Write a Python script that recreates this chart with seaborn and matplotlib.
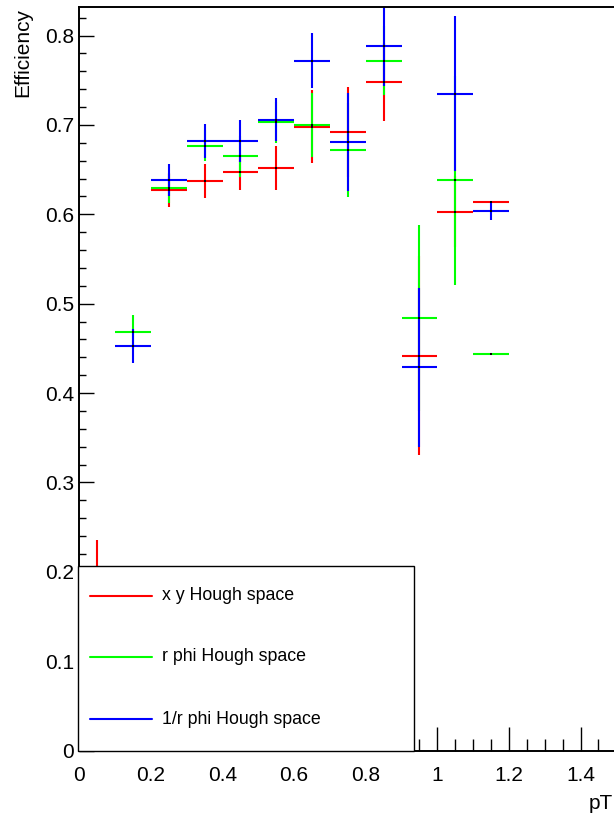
import numpy as np
import pandas as pd
import matplotlib
matplotlib.use("Agg")
import matplotlib.pyplot as plt
from matplotlib.patches import Rectangle
from matplotlib.lines import Line2D
from matplotlib.ticker import MultipleLocator, FuncFormatter
import seaborn as sns

# pT bins (centre and half-width)
pt_centers = [0.05, 0.15, 0.25, 0.35, 0.45, 0.55, 0.65, 0.75, 0.85, 0.95, 1.05, 1.15]
pt_half_width = 0.05

# efficiency per bin and its uncertainty for each Hough-space variant
eff_xy = [0.175, np.nan, 0.627, 0.637, 0.647, 0.652, 0.698, 0.692, 0.748, 0.442, 0.603, 0.614]
err_xy = [0.060, np.nan, 0.019, 0.019, 0.020, 0.025, 0.041, 0.050, 0.044, 0.111, 0.040, 0.000]

eff_rphi = [np.nan, 0.468, 0.629, 0.677, 0.665, 0.703, 0.700, 0.672, 0.772, 0.484, 0.638, 0.444]
err_rphi = [np.nan, 0.019, 0.016, 0.017, 0.023, 0.023, 0.036, 0.053, 0.039, 0.104, 0.117, 0.000]

eff_invr = [np.nan, 0.453, 0.638, 0.682, 0.682, 0.706, 0.772, 0.681, 0.788, 0.429, 0.735, 0.604]
err_invr = [np.nan, 0.019, 0.018, 0.019, 0.023, 0.024, 0.031, 0.055, 0.044, 0.089, 0.087, 0.010]

series_labels = ["x y Hough space", "r phi Hough space", "1/r phi Hough space"]
series_colors = ["#ff0000", "#00ff00", "#0000ff"]

x_ticks = [0, 0.2, 0.4, 0.6, 0.8, 1.0, 1.2, 1.4]
y_ticks = [0, 0.1, 0.2, 0.3, 0.4, 0.5, 0.6, 0.7, 0.8]

frames = []
for lab, eff, err in zip(series_labels, [eff_xy, eff_rphi, eff_invr], [err_xy, err_rphi, err_invr]):
    frames.append(pd.DataFrame({"pT": pt_centers, "eff": eff, "err": err, "method": lab}))
df = pd.concat(frames, ignore_index=True)

sns.set_theme(style="ticks")
plt.rcParams["font.family"] = ["Liberation Sans", "DejaVu Sans"]

W, H = 614, 813
fig = plt.figure(figsize=(W / 100, H / 100), dpi=100)
# frame in pixels: left 79.3, right 616.3 (just past the canvas), top 7, bottom 750.5
ax_l, ax_r, ax_t, ax_b = 79.3, 616.3, 7.0, 750.5
ax = fig.add_axes([ax_l / W, (H - ax_b) / H, (ax_r - ax_l) / W, (ax_b - ax_t) / H])
ax.set_facecolor("white")

for lab, col in zip(series_labels, series_colors):
    d = df[df["method"] == lab]
    ax.errorbar(d["pT"], d["eff"], xerr=pt_half_width, yerr=d["err"], fmt="none",
                ecolor=col, elinewidth=1.5, capsize=0, zorder=2)

sns.scatterplot(data=df.dropna(), x="pT", y="eff", color="black", marker="s", s=2,
                linewidth=0, ax=ax, zorder=3, legend=False)

ax.set_xlim(0, 1.5)
ax.set_ylim(0, 0.832)
ax.set_xlabel("")
ax.set_ylabel("")

fmt = FuncFormatter(lambda v, p: f"{v:g}")
ax.set_xticks(x_ticks)
ax.set_yticks(y_ticks)
ax.xaxis.set_major_formatter(fmt)
ax.yaxis.set_major_formatter(fmt)
ax.xaxis.set_minor_locator(MultipleLocator(0.05))
ax.yaxis.set_minor_locator(MultipleLocator(0.02))

ax.tick_params(axis="both", which="both", direction="in", color="black", labelcolor="black",
               labelsize=15, width=1.0)
ax.tick_params(axis="x", which="major", length=17.3, pad=11)
ax.tick_params(axis="x", which="minor", length=8.6)
ax.tick_params(axis="y", which="major", length=10.8, pad=3.6)
ax.tick_params(axis="y", which="minor", length=5.0)

for side in ["left", "bottom", "top", "right"]:
    ax.spines[side].set_visible(True)
    ax.spines[side].set_color("black")
    ax.spines[side].set_linewidth(1.4)

# axis titles, placed at the ends of the axes
fig.text(613 / W, 1 - 803 / H, "pT", ha="right", va="center", fontsize=15, color="black")
fig.text(23 / W, 1 - 8 / H, "Efficiency", ha="center", va="top", rotation=90,
         fontsize=15, color="black")

# legend box drawn over the lower-left corner of the frame
def to_ax(px, py):
    return (px - ax_l) / (ax_r - ax_l), (ax_b - py) / (ax_b - ax_t)

x0, y0 = to_ax(78, 751)
x1, y1 = to_ax(414, 566)
ax.add_patch(Rectangle((x0, y0), x1 - x0, y1 - y0, transform=ax.transAxes,
                       facecolor="white", edgecolor="black", linewidth=1.0,
                       clip_on=False, zorder=10))
rows_y = [595.7, 656.7, 719.0]
for lab, col, ry in zip(series_labels, series_colors, rows_y):
    lx0, ly = to_ax(90, ry)
    lx1, _ = to_ax(152, ry)
    ax.add_line(Line2D([lx0, lx1], [ly, ly], transform=ax.transAxes, color=col,
                       linewidth=1.5, clip_on=False, zorder=11))
    tx, _ = to_ax(162, ry)
    ax.text(tx, ly, lab, transform=ax.transAxes, ha="left", va="center",
            fontsize=12.8, color="black", zorder=12, clip_on=False)

fig.savefig("out.png", dpi=100)
